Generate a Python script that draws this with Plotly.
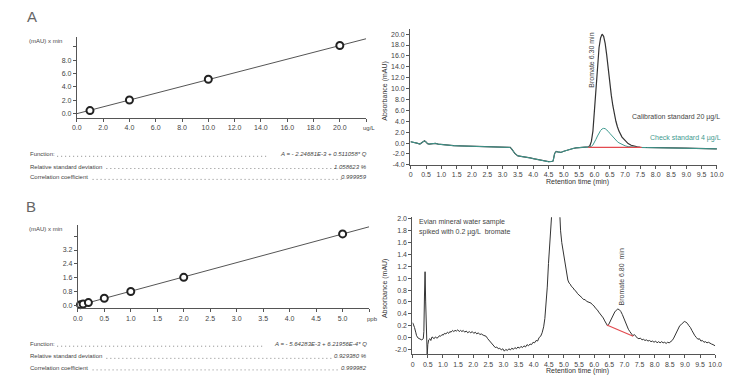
import plotly.graph_objects as go

# ---------------- data ----------------
# Panel A calibration
calA_conc = [1, 4, 10, 20]
calA_area = [0.44, 2.03, 5.14, 10.2]
fitA_x = [0.0, 22.0]
fitA_y = [-0.02, 11.22]
calA_xticks = [0, 2, 4, 6, 8, 10, 12, 14, 16, 18, 20, 22]
calA_xtext = ["0.0", "2.0", "4.0", "6.0", "8.0", "10.0", "12.0", "14.0", "16.0", "18.0", "20.0", ""]
calA_yticks = [0, 2, 4, 6, 8, 10]
calA_ytext = ["0.0", "2.0", "4.0", "6.0", "8.0", ""]

# Panel A chromatogram
tA = [0, 0.1, 0.2, 0.3, 0.4, 0.45, 0.5, 0.55, 0.6, 0.7, 0.8, 0.9, 1.0, 1.2, 1.4, 1.6, 1.8, 2.0,
      2.2, 2.4, 2.6, 2.8, 3.0, 3.2, 3.25, 3.3, 3.35, 3.4, 3.5, 3.6, 3.7, 3.8, 3.9, 4.0, 4.1, 4.2,
      4.3, 4.4, 4.5, 4.6, 4.65, 4.7, 4.75, 4.8, 4.9, 5.0, 5.1, 5.2, 5.3, 5.4, 5.5, 5.6, 5.7, 5.8,
      5.85, 5.9, 5.95, 6.0, 6.05, 6.1, 6.15, 6.2, 6.25, 6.3, 6.35, 6.4, 6.45, 6.5, 6.55, 6.6, 6.65,
      6.7, 6.75, 6.8, 6.9, 7.0, 7.1, 7.2, 7.3, 7.4, 7.5, 7.7, 8.0, 8.3, 8.6, 9.0, 9.3, 9.6, 10.0]
cal20 = [0.24, 0.15, 0.0, -0.18, 0.15, 0.42, 0.2, -0.1, -0.18, -0.08, -0.06, -0.2, -0.28, -0.42,
         -0.48, -0.52, -0.56, -0.58, -0.62, -0.64, -0.66, -0.68, -0.7, -0.72, -0.8, -1.1, -1.45,
         -1.9, -2.35, -2.42, -2.47, -2.6, -2.72, -2.85, -2.98, -3.12, -3.26, -3.37, -3.42, -3.38,
         -3.3, -1.9, -1.55, -1.62, -1.72, -1.5, -1.3, -1.14, -1.0, -0.88, -0.8, -0.76, -0.74, -0.72,
         -0.5, 0.3, 2.2, 6.0, 10.5, 14.5, 17.5, 19.3, 20.0, 19.6, 18.3, 16.2, 13.5, 11.0, 8.8, 6.9,
         5.3, 4.0, 3.0, 2.2, 1.1, 0.4, -0.1, -0.4, -0.6, -0.7, -0.78, -0.82, -0.86, -0.88, -0.9,
         -0.94, -0.97, -1.0, -1.06]
chk4 = [0.24, 0.15, 0.0, -0.18, 0.15, 0.42, 0.2, -0.1, -0.18, -0.08, -0.06, -0.2, -0.28, -0.42,
        -0.48, -0.52, -0.56, -0.58, -0.62, -0.64, -0.66, -0.68, -0.7, -0.72, -0.8, -1.1, -1.45,
        -1.9, -2.35, -2.42, -2.47, -2.6, -2.72, -2.85, -2.98, -3.12, -3.26, -3.37, -3.42, -3.38,
        -3.3, -1.9, -1.55, -1.62, -1.72, -1.5, -1.3, -1.14, -1.0, -0.88, -0.8, -0.76, -0.74, -0.72,
        -0.7, -0.6, -0.35, 0.1, 0.7, 1.3, 1.85, 2.3, 2.6, 2.7, 2.65, 2.45, 2.15, 1.8, 1.45, 1.1,
        0.8, 0.5, 0.25, 0.05, -0.25, -0.5, -0.65, -0.72, -0.76, -0.78, -0.8, -0.82, -0.86, -0.88,
        -0.9, -0.94, -0.97, -1.0, -1.06]
baseA_t = [5.8, 7.54]
baseA_y = [-0.8, -0.8]
chrA_xticks = [0, 0.5, 1, 1.5, 2, 2.5, 3, 3.5, 4, 4.5, 5, 5.5, 6, 6.5, 7, 7.5, 8, 8.5, 9, 9.5, 10]
chrA_xtext = ["0", "0.5", "1.0", "1.5", "2.0", "2.5", "3.0", "3.5", "4.0", "4.5", "5.0", "5.5",
              "6.0", "6.5", "7.0", "7.5", "8.0", "8.5", "9.0", "9.5", "10.0"]
chrA_yticks = [-4, -2, 0, 2, 4, 6, 8, 10, 12, 14, 16, 18, 20]
chrA_ytext = ["-4.0", "-2.0", "0.0", "2.0", "4.0", "6.0", "8.0", "10.0", "12.0", "14.0", "16.0",
              "18.0", "20.0"]

# Panel B calibration
calB_conc = [0.05, 0.1, 0.2, 0.5, 1.0, 2.0, 5.0]
calB_area = [0.04, 0.08, 0.16, 0.41, 0.80, 1.62, 4.13]
fitB_x = [0.0, 5.5]
fitB_y = [-0.01, 4.54]
calB_xticks = [0, 0.5, 1, 1.5, 2, 2.5, 3, 3.5, 4, 4.5, 5, 5.5]
calB_xtext = ["0.0", "0.5", "1.0", "1.5", "2.0", "2.5", "3.0", "3.5", "4.0", "4.5", "5.0", ""]
calB_yticks = [0, 0.8, 1.6, 2.4, 3.2, 4.0]
calB_ytext = ["0.0", "0.8", "1.6", "2.4", "3.2", ""]

# Panel B chromatogram
tB = [0.00, 0.03, 0.06, 0.10, 0.13, 0.18, 0.24, 0.30, 0.35, 0.37, 0.39, 0.41, 0.43, 0.45, 0.47,
      0.48, 0.50, 0.53, 0.57, 0.60, 0.64, 0.67, 0.71, 0.75, 0.80, 0.84, 0.88, 0.92, 0.97, 1.01,
      1.05, 1.10, 1.15, 1.19, 1.23, 1.27, 1.32, 1.36, 1.40, 1.45, 1.49, 1.54, 1.58, 1.63, 1.67,
      1.72, 1.77, 1.82, 1.87, 1.92, 1.97, 2.02, 2.07, 2.12, 2.17, 2.22, 2.27, 2.33, 2.38, 2.43,
      2.48, 2.53, 2.58, 2.63, 2.68, 2.73, 2.78, 2.83, 2.88, 2.93, 2.98, 3.03, 3.08, 3.13, 3.18,
      3.23, 3.28, 3.33, 3.38, 3.43, 3.48, 3.53, 3.58, 3.63, 3.68, 3.73, 3.78, 3.83, 3.88, 3.93,
      3.98, 4.03, 4.08, 4.13, 4.18, 4.23, 4.28, 4.33, 4.37, 4.41, 4.45, 4.49, 4.53, 4.57, 4.62,
      4.68, 4.74, 4.80, 4.85, 4.89, 4.93, 4.97, 5.01, 5.05, 5.09, 5.13, 5.17, 5.21, 5.25, 5.30,
      5.35, 5.40, 5.45, 5.50, 5.55, 5.60, 5.65, 5.70, 5.75, 5.80, 5.85, 5.90, 5.95, 6.00, 6.05,
      6.10, 6.15, 6.20, 6.25, 6.30, 6.35, 6.40, 6.44, 6.48, 6.53, 6.58, 6.63, 6.68, 6.73, 6.78,
      6.83, 6.88, 6.93, 6.98, 7.03, 7.08, 7.13, 7.18, 7.23, 7.28, 7.33, 7.38, 7.43, 7.48, 7.53,
      7.58, 7.63, 7.68, 7.73, 7.78, 7.83, 7.88, 7.93, 7.98, 8.03, 8.08, 8.13, 8.18, 8.23, 8.28,
      8.33, 8.38, 8.43, 8.48, 8.53, 8.58, 8.63, 8.68, 8.73, 8.78, 8.83, 8.88, 8.93, 8.98, 9.03,
      9.08, 9.13, 9.18, 9.23, 9.28, 9.33, 9.38, 9.43, 9.48, 9.53, 9.58, 9.63, 9.68, 9.73, 9.78,
      9.83, 9.88, 9.93, 9.98, 10.0]
evian = [0.25, 0.22, 0.17, 0.09, 0.03, -0.01, -0.03, -0.04, -0.02, 0.10, 0.70, 1.11, 0.60, 0.05,
         -0.25, -0.30, -0.12, -0.04, -0.02, -0.05, 0.01, 0.00, -0.02, 0.01, -0.01, 0.00, 0.03,
         0.02, 0.05, 0.04, 0.07, 0.06, 0.09, 0.07, 0.10, 0.09, 0.12, 0.10, 0.12, 0.11, 0.13, 0.10,
         0.12, 0.10, 0.12, 0.09, 0.11, 0.08, 0.10, 0.08, 0.10, 0.07, 0.09, 0.06, 0.08, 0.05, 0.06,
         0.04, 0.03, 0.02, -0.02, -0.05, -0.08, -0.12, -0.14, -0.17, -0.16, -0.19, -0.18, -0.21,
         -0.19, -0.23, -0.20, -0.22, -0.19, -0.21, -0.18, -0.20, -0.17, -0.19, -0.16, -0.18, -0.15,
         -0.17, -0.14, -0.16, -0.12, -0.14, -0.11, -0.12, -0.08, -0.09, -0.05, -0.06, 0.00, 0.02,
         0.08, 0.18, 0.32, 0.55, 0.85, 1.25, 1.70, 2.15, 2.7, 3.1, 3.2, 2.8, 2.10, 1.80, 1.60,
         1.48, 1.32, 1.18, 1.05, 0.97, 0.92, 0.90, 0.86, 0.84, 0.80, 0.78, 0.74, 0.72, 0.69, 0.67,
         0.64, 0.64, 0.61, 0.60, 0.58, 0.58, 0.55, 0.53, 0.49, 0.47, 0.43, 0.40, 0.36, 0.33, 0.28,
         0.24, 0.20, 0.22, 0.28, 0.33, 0.38, 0.43, 0.46, 0.48, 0.47, 0.44, 0.39, 0.32, 0.26, 0.19,
         0.14, 0.10, 0.06, 0.03, 0.05, 0.01, -0.01, -0.02, -0.01, -0.04, -0.03, -0.05, -0.04,
         -0.06, -0.05, -0.07, -0.06, -0.08, -0.06, -0.09, -0.07, -0.09, -0.07, -0.09, -0.08, -0.10,
         -0.08, -0.09, -0.07, -0.05, -0.01, 0.05, 0.10, 0.15, 0.20, 0.22, 0.25, 0.27, 0.26, 0.24,
         0.20, 0.17, 0.12, 0.07, 0.03, 0.00, -0.03, -0.02, -0.06, -0.05, -0.08, -0.07, -0.09,
         -0.08, -0.10, -0.11, -0.12, -0.14, -0.14]
baseB_t = [6.42, 7.29]
baseB_y = [0.21, 0.02]
chrB_yticks = [-0.2, 0, 0.2, 0.4, 0.6, 0.8, 1.0, 1.2, 1.4, 1.6, 1.8, 2.0]
chrB_ytext = ["-2.0", "0.0", "0.2", "0.4", "0.6", "0.8", "1.0", "1.2", "1.4", "1.6", "1.8", "2.0"]

tableA = [("Function:", "A = - 2.24681E-3 + 0.511058* Q"),
          ("Relative standard deviation", "1.058623 %"),
          ("Correlation coefficient", "0.999959")]
tableB = [("Function:", "A = - 5.64283E-3 + 6.21956E-4* Q"),
          ("Relative standard deviation", "0.929380 %"),
          ("Correlation coefficient", "0.999982")]

# ---------------- figure ----------------
W, H = 750, 388
FONT = "Liberation Sans, Arial, sans-serif"
TXT = "#444444"


def PX(x):
    return x / W


def PY(y):
    return 1 - y / H


fig = go.Figure()

# calibration A
fig.add_trace(go.Scatter(x=fitA_x, y=fitA_y, mode="lines", line=dict(color="#555", width=1),
                         xaxis="x", yaxis="y", showlegend=False))
fig.add_trace(go.Scatter(x=calA_conc, y=calA_area, mode="markers",
                         marker=dict(symbol="circle", size=7, color="white",
                                     line=dict(color="#222", width=2)),
                         xaxis="x", yaxis="y", showlegend=False, cliponaxis=False))
# chromatogram A
fig.add_trace(go.Scatter(x=tA, y=cal20, mode="lines", line=dict(color="#333", width=1.2),
                         xaxis="x2", yaxis="y2", showlegend=False))
fig.add_trace(go.Scatter(x=tA, y=chk4, mode="lines", line=dict(color="#3f9a8f", width=1),
                         xaxis="x2", yaxis="y2", showlegend=False))
fig.add_trace(go.Scatter(x=baseA_t, y=baseA_y, mode="lines", line=dict(color="#e34a4f", width=1.2),
                         xaxis="x2", yaxis="y2", showlegend=False))
# calibration B
fig.add_trace(go.Scatter(x=fitB_x, y=fitB_y, mode="lines", line=dict(color="#555", width=1),
                         xaxis="x3", yaxis="y3", showlegend=False))
fig.add_trace(go.Scatter(x=calB_conc, y=calB_area, mode="markers",
                         marker=dict(symbol="circle", size=7, color="white",
                                     line=dict(color="#222", width=2)),
                         xaxis="x3", yaxis="y3", showlegend=False, cliponaxis=False))
# chromatogram B
fig.add_trace(go.Scatter(x=tB, y=evian, mode="lines", line=dict(color="#333", width=1),
                         xaxis="x4", yaxis="y4", showlegend=False))
fig.add_trace(go.Scatter(x=baseB_t, y=baseB_y, mode="lines", line=dict(color="#e34a4f", width=1.2),
                         xaxis="x4", yaxis="y4", showlegend=False))

axis_common = dict(showline=True, linecolor="#555", linewidth=1, showgrid=False, zeroline=False,
                   ticks="outside", ticklen=3, tickcolor="#555", tickwidth=1,
                   tickfont=dict(family=FONT, size=7, color=TXT), fixedrange=True)

fig.update_layout(
    width=W, height=H, margin=dict(l=0, r=0, t=0, b=0),
    paper_bgcolor="white", plot_bgcolor="white", showlegend=False, hovermode=False,
    xaxis=dict(axis_common, domain=[PX(73), PX(367)], range=[0, 22], anchor="y",
               tickmode="array", tickvals=calA_xticks, ticktext=calA_xtext),
    yaxis=dict(axis_common, domain=[PY(117.3), PY(35)], range=[-0.64, 11.55], anchor="x",
               tickmode="array", tickvals=calA_yticks, ticktext=calA_ytext),
    xaxis2=dict(axis_common, domain=[PX(411.7), PX(723.5)], range=[-0.02, 10.0], anchor="y2",
                tickmode="array", tickvals=chrA_xticks, ticktext=chrA_xtext),
    yaxis2=dict(axis_common, domain=[PY(165), PY(27)], range=[-4, 21], anchor="x2",
                tickmode="array", tickvals=chrA_yticks, ticktext=chrA_ytext),
    xaxis3=dict(axis_common, domain=[PX(74), PX(370)], range=[0, 5.5], anchor="y3",
                tickmode="array", tickvals=calB_xticks, ticktext=calB_xtext),
    yaxis3=dict(axis_common, domain=[PY(310.5), PY(226)], range=[-0.18, 4.64], anchor="x3",
                tickmode="array", tickvals=calB_yticks, ticktext=calB_ytext),
    xaxis4=dict(axis_common, domain=[PX(414), PX(721.7)], range=[-0.01, 10.0], anchor="y4",
                tickmode="array", tickvals=chrA_xticks, ticktext=chrA_xtext),
    yaxis4=dict(axis_common, domain=[PY(356.7), PY(218)], range=[-0.28, 2.03], anchor="x4",
                tickmode="array", tickvals=chrB_yticks, ticktext=chrB_ytext),
)

ann = []


def text(x, y, s, size=7, color=TXT, xanchor="center", angle=0, italic=False, bold=False):
    if italic:
        s = "<i>" + s + "</i>"
    if bold:
        s = "<b>" + s + "</b>"
    ann.append(dict(x=PX(x), y=PY(y), xref="paper", yref="paper", text=s, showarrow=False,
                    xanchor=xanchor, yanchor="middle", textangle=angle,
                    font=dict(family=FONT, size=size, color=color)))


# panel letters
text(27, 15, "A", size=15, color="#666")
text(26, 207, "B", size=15, color="#666")

# calibration unit labels
text(22, 40, "(mAU) x min", size=6, xanchor="left")
text(22, 230, "(mAU) x min", size=6, xanchor="left")
text(362, 128, "ug/L", size=6, xanchor="left")
text(366, 321, "ppb", size=6, xanchor="left")

# chromatogram axis titles
text(386, 90, "Absorbance (mAU)", size=7, angle=-90, color="#333")
text(582, 182, "Retention time (min)", size=7, color="#333")
text(386, 290, "Absorbance (mAU)", size=7, angle=-90, color="#333")
text(582, 374, "Retention time (min)", size=7, color="#333")

# chromatogram annotations
text(596, 59, "Bromate 6.30 min", size=7, angle=-90, color="#444")
text(682, 117, "Calibration standard 20 µg/L", size=7, color="#444")
text(692, 138, "Check standard 4 µg/L", size=7, color="#3f9a8f")
text(626, 278, "Bromate 6.80  min", size=7, angle=-90, color="#444")
text(419, 223, "Evian mineral water sample", size=7, xanchor="left")
text(419, 233, "spiked with 0.2 µg/L  bromate", size=7, xanchor="left")

# tables
shapes = []
rowsA = [154.3, 166.7, 177.7]
rowsB = [346.7, 359.0, 370.7]
lab_end = [51, 101, 87]
valA_start = [268, 340, 345]
valB_start = [265, 334, 341]
for rows, tbl, vstart in ((rowsA, tableA, valA_start), (rowsB, tableB, valB_start)):
    for i, (lab, val) in enumerate(tbl):
        text(23, rows[i], lab, size=6, xanchor="left")
        text(370, rows[i], val, size=6, xanchor="right", italic=True)
        shapes.append(dict(type="line", xref="paper", yref="paper",
                           x0=PX(lab_end[i] + 2), x1=PX(vstart[i] - 2),
                           y0=PY(rows[i] + 2), y1=PY(rows[i] + 2),
                           line=dict(color="#888", width=1, dash="1px,3px")))

fig.update_layout(annotations=ann, shapes=shapes)
fig.write_html("out.html", config=dict(displayModeBar=False, staticPlot=True),
               post_script="document.body.style.margin='0';document.body.style.padding='0';")
